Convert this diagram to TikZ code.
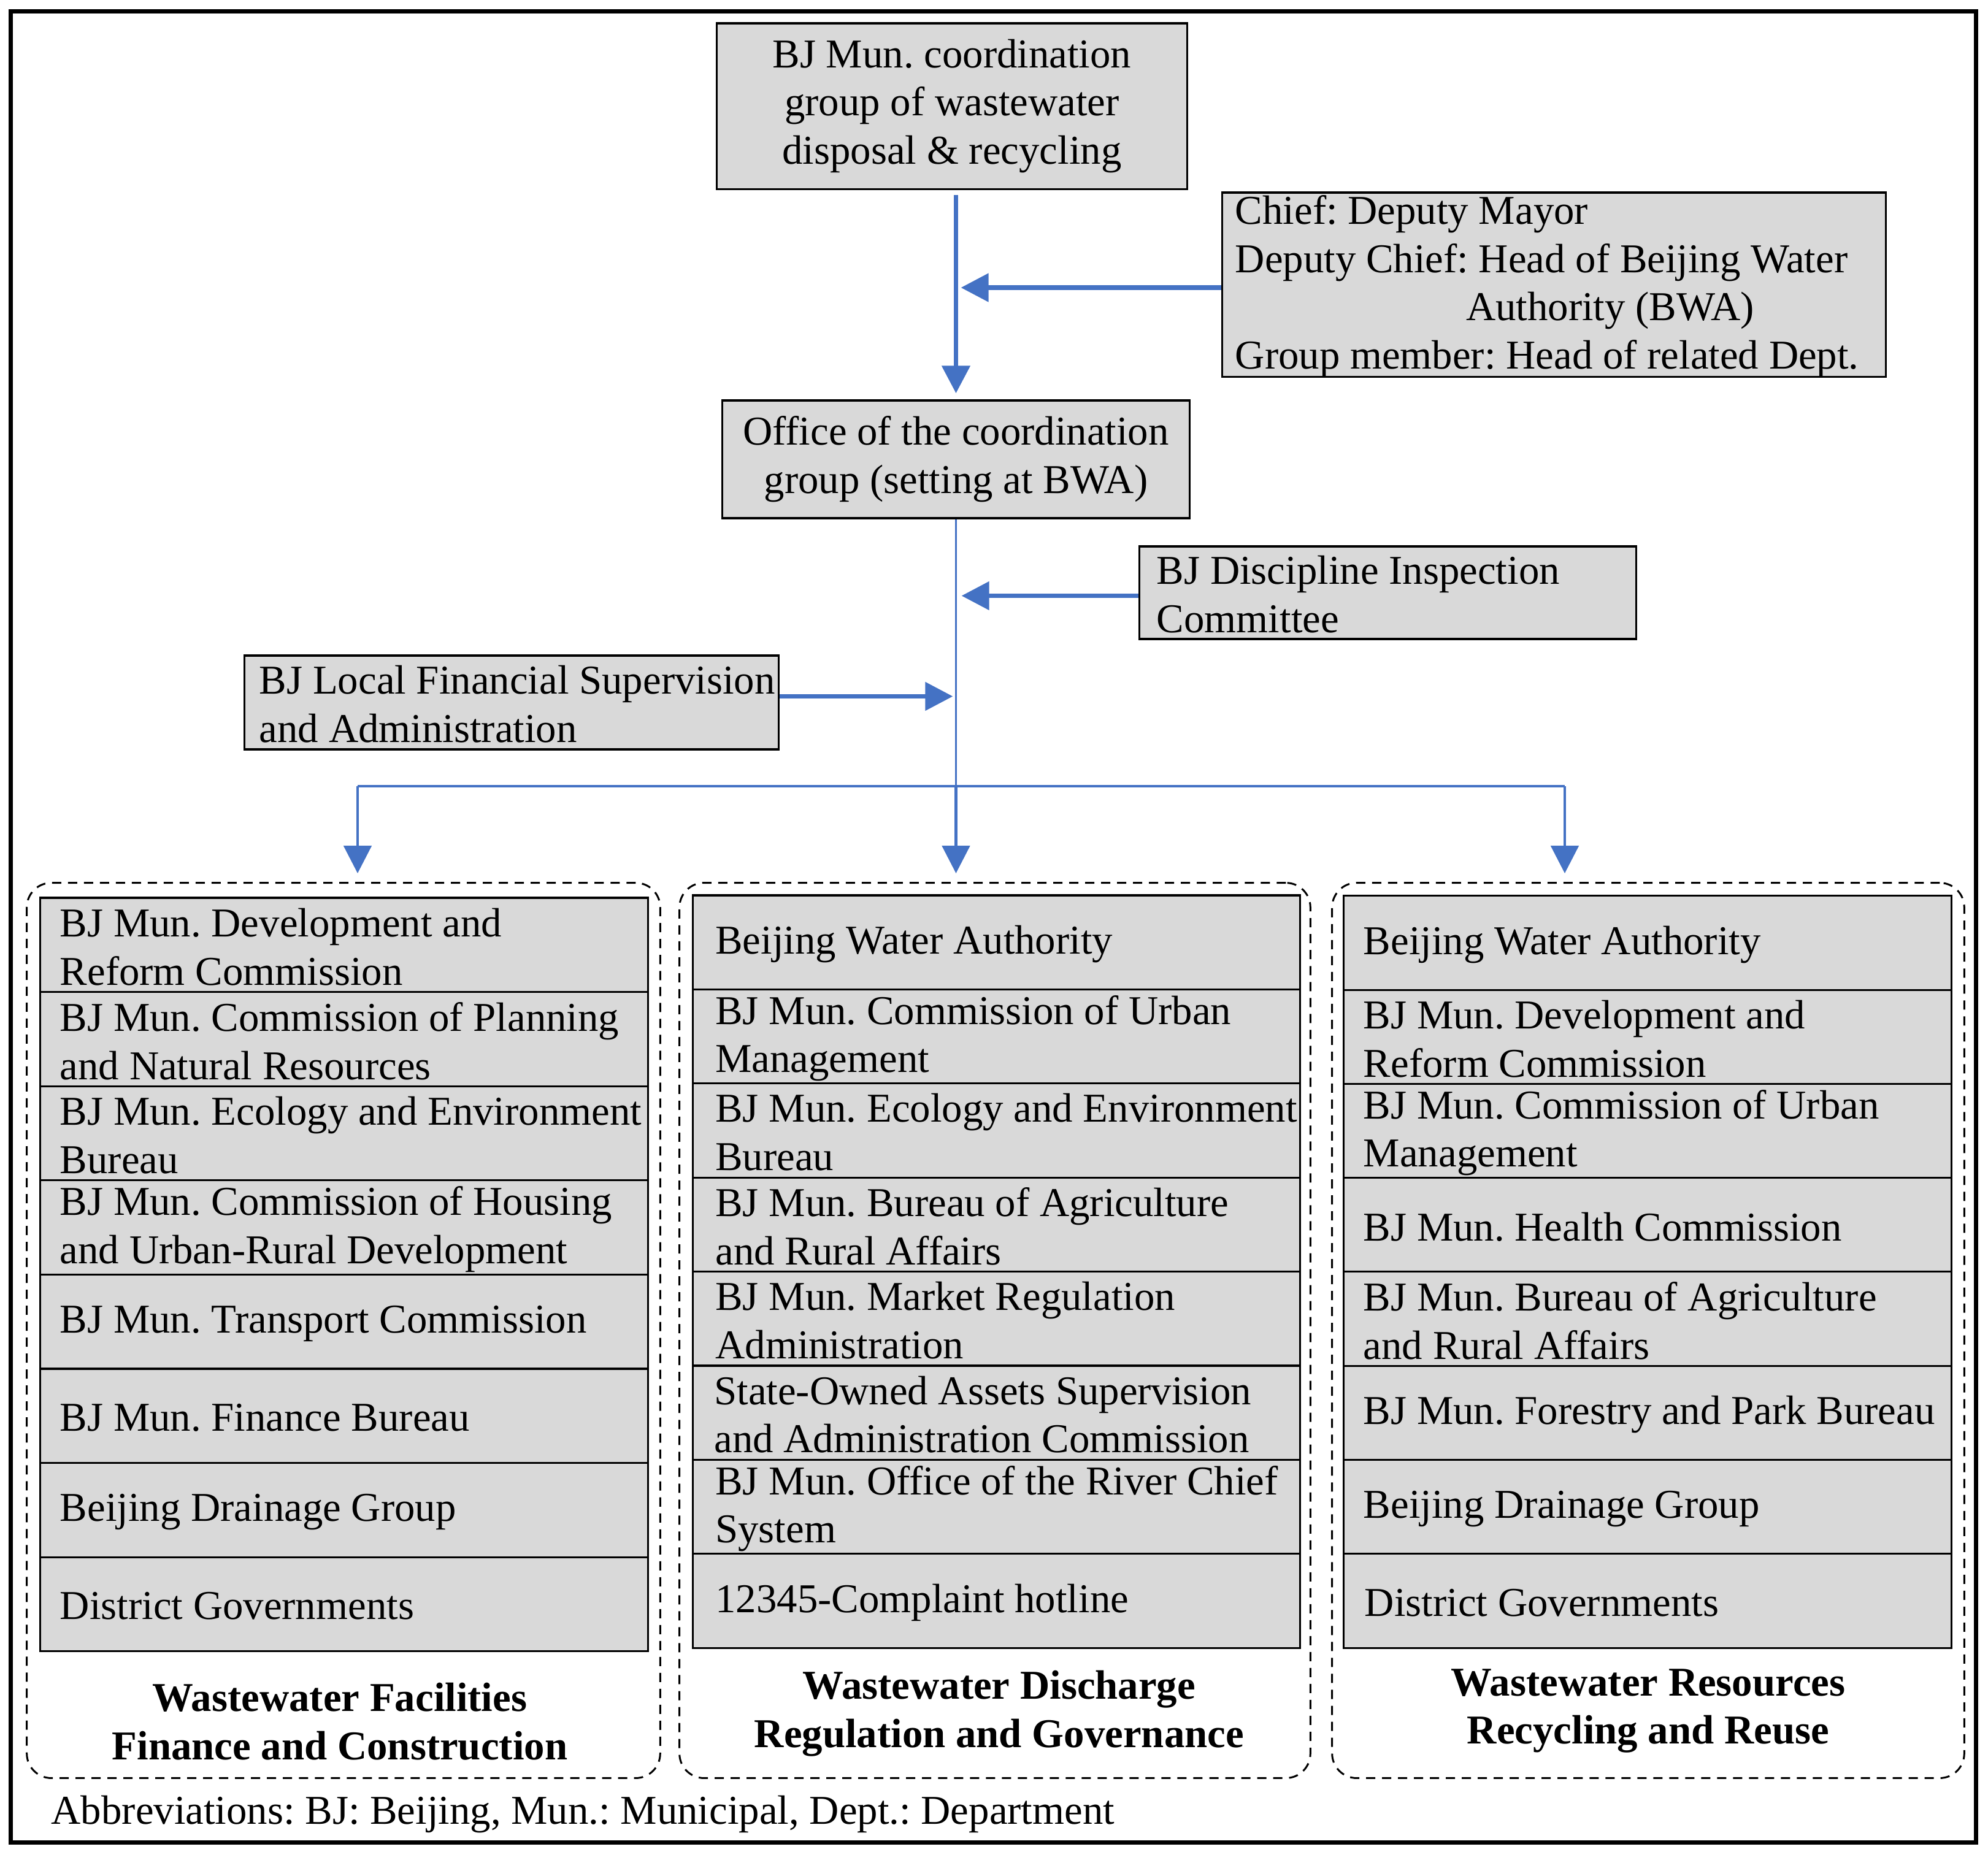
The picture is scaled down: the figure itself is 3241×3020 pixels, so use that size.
\documentclass[tikz,border=0pt]{standalone}
\usepackage{fontspec}
\setmainfont{Liberation Serif}
\usetikzlibrary{arrows.meta}
\definecolor{arrowblue}{HTML}{4472C4}
\definecolor{boxgray}{HTML}{D9D9D9}
\frenchspacing
\newcommand\orgrow[5]{%
  \node[rowbox] (#1) at (#2,#3) {};
  \node[txt] at ([xshift=#5]#1.west) {#4};
}
\begin{document}
\begin{tikzpicture}[x=0.01cm,y=-0.01cm,
  every node/.style={font=\fontsize{19}{22.4}\selectfont, inner sep=0},
  graybox/.style={draw=black, line width=0.9pt, fill=boxgray, inner sep=0},
  rowbox/.style={graybox, minimum width=9.9cm, minimum height=1.535cm},
  txt/.style={align=left, anchor=west, inner sep=0, yshift=-0.03cm},
  ctxt/.style={align=center, inner sep=0},
  container/.style={draw=black, line width=0.85pt, dash pattern=on 0.15cm off 0.11cm, rounded corners=0.4cm, inner sep=0},
  thickarrow/.style={draw=arrowblue, line width=2.2pt, -{Triangle[length=0.45cm,width=0.45cm]}},
  midarrow/.style={draw=arrowblue, line width=1.4pt, -{Triangle[length=0.45cm,width=0.45cm]}},
  thinline/.style={draw=arrowblue, line width=1pt},
  title/.style={align=center, inner sep=0, font=\fontsize{19}{22.4}\selectfont\bfseries}
]
\useasboundingbox (0,0) rectangle (3241,3020);
\draw[line width=2pt] (17.5,18.5) rectangle (3221,3004);

% top boxes
\node[graybox, minimum width=7.66cm, minimum height=2.70cm, ctxt] (top) at (1552,173)
  {BJ Mun. coordination\\group of wastewater\\disposal \& recycling};
\node[graybox, minimum width=10.81cm, minimum height=3.00cm] (chief) at (2533.5,464) {};
\node[txt] at ([xshift=0.22cm]chief.west) {Chief: Deputy Mayor\\Deputy Chief: Head of Beijing Water\\\hspace*{3.76cm}Authority (BWA)\\Group member: Head of related Dept.};
\node[graybox, minimum width=7.61cm, minimum height=1.92cm, ctxt] (office) at (1558.5,749)
  {Office of the coordination\\group (setting at BWA)};
\node[graybox, minimum width=8.09cm, minimum height=1.51cm] (disc) at (2262.5,966.5) {};
\node[txt] at ([xshift=0.29cm]disc.west) {BJ Discipline Inspection\\Committee};
\node[graybox, minimum width=8.70cm, minimum height=1.53cm] (local) at (834,1145.5) {};
\node[txt] at ([xshift=0.25cm]local.west) {BJ Local Financial Supervision\\and Administration};

% containers
\node[container, minimum width=10.32cm, minimum height=14.59cm] (CL) at (560,2169.5) {};
\node[container, minimum width=10.28cm, minimum height=14.59cm] (CM) at (1622,2169.5) {};
\node[container, minimum width=10.30cm, minimum height=14.59cm] (CR) at (2687,2169.5) {};

% left column
\orgrow{L1}{561}{1540.8}{BJ Mun. Development and\\Reform Commission}{0.33cm}
\orgrow{L2}{561}{1694.4}{BJ Mun. Commission of Planning\\and Natural Resources}{0.33cm}
\orgrow{L3}{561}{1848.0}{BJ Mun. Ecology and Environment\\Bureau}{0.33cm}
\orgrow{L4}{561}{2001.6}{BJ Mun. Commission of Housing\\and Urban-Rural Development}{0.33cm}
\orgrow{L5}{561}{2155.2}{BJ Mun. Transport Commission}{0.33cm}
\orgrow{L6}{561}{2308.8}{BJ Mun. Finance Bureau}{0.33cm}
\orgrow{L7}{561}{2462.4}{Beijing Drainage Group}{0.33cm}
\orgrow{L8}{561}{2616.0}{District Governments}{0.33cm}

% middle column
\orgrow{M1}{1624.5}{1536.7}{Beijing Water Authority}{0.38cm}
\orgrow{M2}{1624.5}{1690.1}{BJ Mun. Commission of Urban\\Management}{0.38cm}
\orgrow{M3}{1624.5}{1843.5}{BJ Mun. Ecology and Environment\\Bureau}{0.38cm}
\orgrow{M4}{1624.5}{1996.9}{BJ Mun. Bureau of Agriculture\\and Rural Affairs}{0.38cm}
\orgrow{M5}{1624.5}{2150.3}{BJ Mun. Market Regulation\\Administration}{0.38cm}
\orgrow{M6}{1624.5}{2303.7}{State-Owned Assets Supervision\\and Administration Commission}{0.36cm}
\orgrow{M7}{1624.5}{2457.1}{BJ Mun. Office of the River Chief\\System}{0.38cm}
\orgrow{M8}{1624.5}{2610.5}{12345-Complaint hotline}{0.38cm}

% right column
\orgrow{R1}{2686}{1537.6}{Beijing Water Authority}{0.33cm}
\orgrow{R2}{2686}{1690.9}{BJ Mun. Development and\\Reform Commission}{0.33cm}
\orgrow{R3}{2686}{1844.1}{BJ Mun. Commission of Urban\\Management}{0.33cm}
\orgrow{R4}{2686}{1997.4}{BJ Mun. Health Commission}{0.33cm}
\orgrow{R5}{2686}{2150.6}{BJ Mun. Bureau of Agriculture\\and Rural Affairs}{0.33cm}
\orgrow{R6}{2686}{2303.9}{BJ Mun. Forestry and Park Bureau}{0.33cm}
\orgrow{R7}{2686}{2457.1}{Beijing Drainage Group}{0.33cm}
\orgrow{R8}{2686}{2610.4}{District Governments}{0.35cm}

% titles
\node[title] (TL) at (554,2807) {Wastewater Facilities\\Finance and Construction};
\node[title] (TM) at (1629,2794) {Wastewater Discharge\\Regulation and Governance};
\node[title] (TR) at (2687,2790) {Wastewater Resources\\Recycling and Reuse};

\node[anchor=west] (abbr) at (83,2958) {Abbreviations: BJ: Beijing, Mun.: Municipal, Dept.: Department};

% connectors
\coordinate (bL) at (583,1282);
\coordinate (bR) at (2551,1282);
\draw[thickarrow, shorten <=0.08cm, shorten >=0.1cm] (top.south -| office.north) -- (office.north);
\draw[thickarrow, shorten >=0.08cm] ([yshift=-0.05cm]chief.west) -- ([yshift=-0.05cm]chief.west -| office.south);
\draw[thickarrow, shorten >=0.09cm] ([yshift=-0.05cm]disc.west) -- ([yshift=-0.05cm]disc.west -| office.south);
\draw[thickarrow, shorten >=0.05cm] ([yshift=0.1cm]local.east) -- ([yshift=0.1cm]local.east -| office.south);
\draw[thinline] (office.south) -- (office.south |- bL);
\draw[thinline] (bL) -- (bR);
\draw[midarrow, shorten >=0.14cm] (bL) -- (bL |- CL.north);
\draw[midarrow, shorten >=0.14cm] (office.south |- bL) -- (office.south |- CM.north);
\draw[midarrow, shorten >=0.14cm] (bR) -- (bR |- CR.north);
\end{tikzpicture}
\end{document}
